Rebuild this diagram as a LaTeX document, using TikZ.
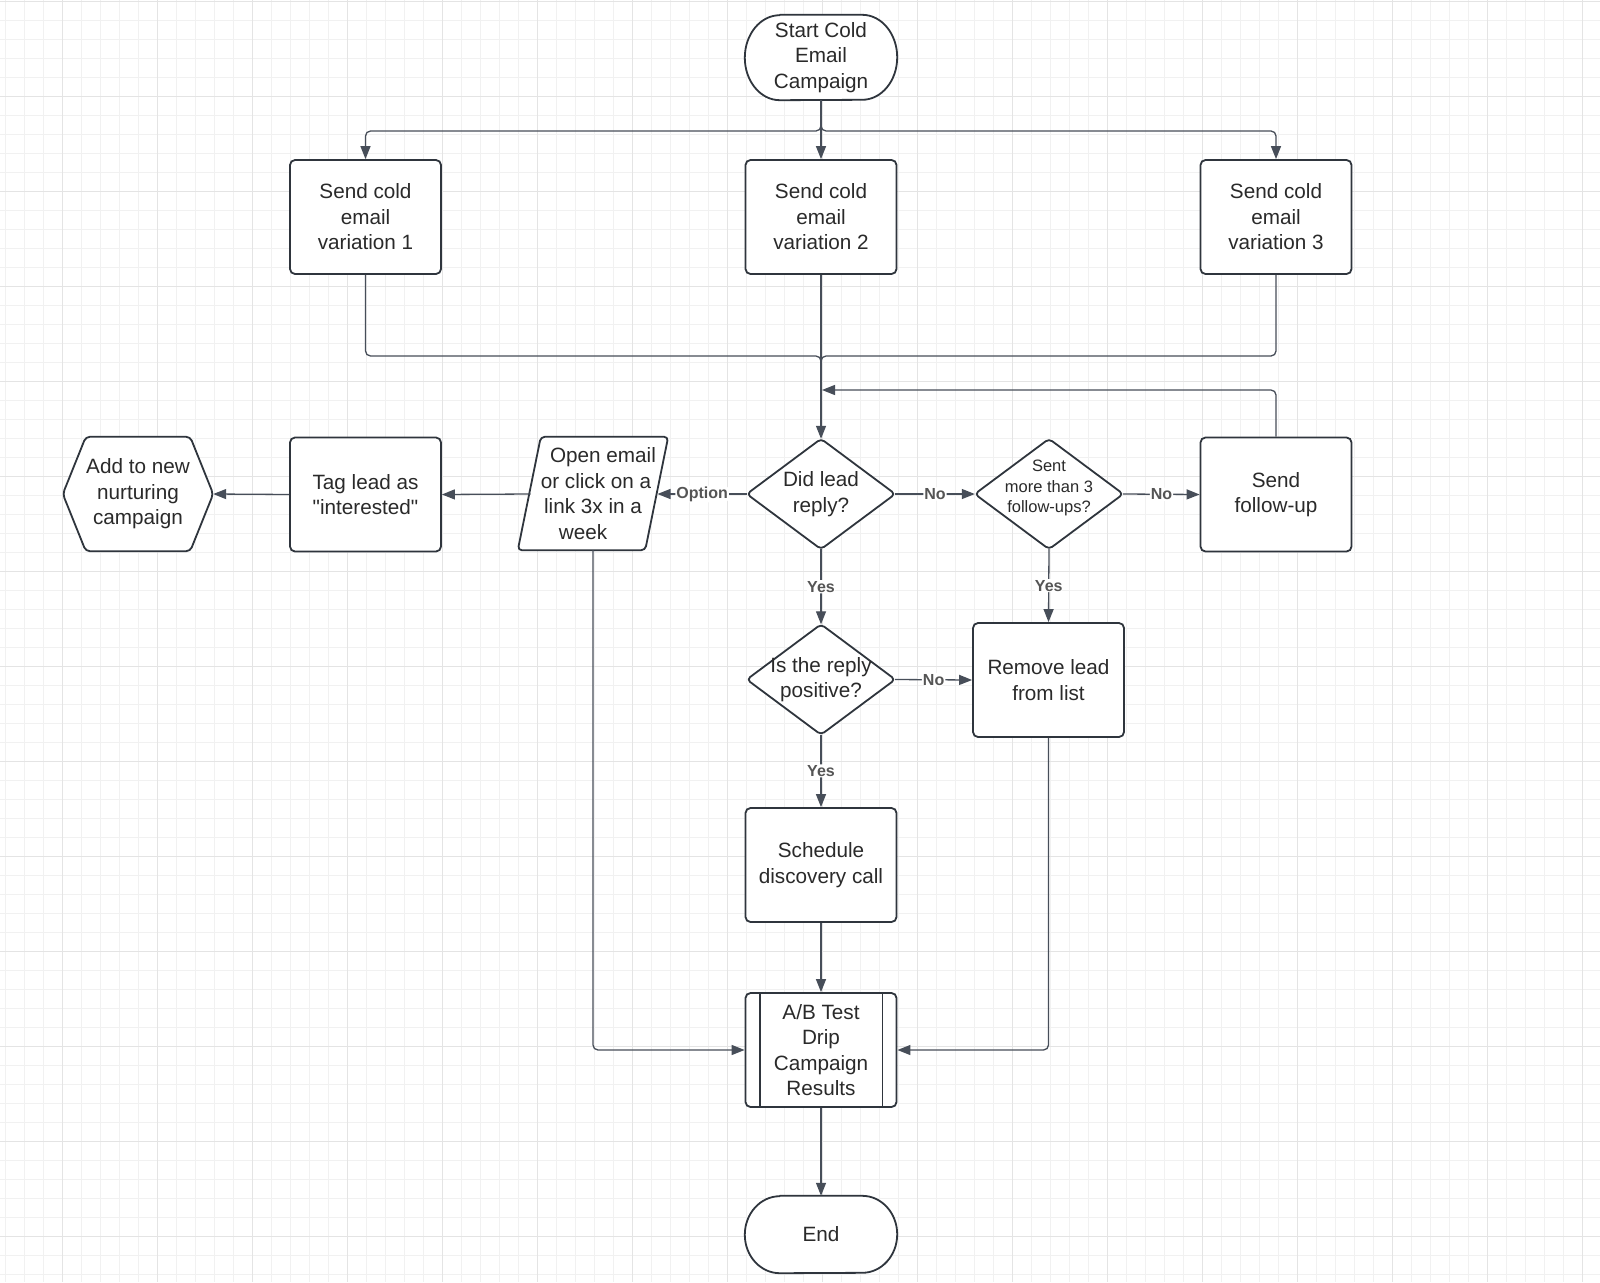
\documentclass[tikz,border=0pt]{standalone}
\usepackage{fontspec}
\setmainfont{Liberation Sans}
\usetikzlibrary{arrows.meta,calc}
\definecolor{bordc}{HTML}{2F353D}
\definecolor{connc}{HTML}{474E59}
\definecolor{txtc}{HTML}{2A2A2A}
\definecolor{lblc}{HTML}{555555}
\definecolor{gmin}{HTML}{F1F1F1}
\definecolor{gmaj}{HTML}{E4E4E4}
\pgfdeclarelayer{bg}
\pgfdeclarelayer{shp}
\pgfsetlayers{bg,shp,main}
\newcommand\mfs{\fontsize{20.7}{25.5}\selectfont}
\newcommand\sfs{\fontsize{16.5}{20.3}\selectfont}
\newcommand\lfs{\fontsize{16}{19}\selectfont\bfseries}
\newcommand\strq{\XeTeXglyph\XeTeXcharglyph"22\relax}
\begin{document}
\begin{tikzpicture}[x=1pt,y=-1pt,
  box/.style={draw=bordc, line width=1.8pt, fill=white, rounded corners=5pt,
    minimum width=151pt, minimum height=114pt, align=center, font=\mfs,
    text=txtc, inner sep=0pt},
  plain/.style={align=center, font=\mfs, text=txtc, inner sep=0pt},
  shapeline/.style={draw=bordc, line width=1.8pt, fill=white, line join=round},
  conn/.style={draw=connc, line width=1.3pt, rounded corners=5pt,
    -{Triangle[length=13pt,width=10pt]}},
  plainconn/.style={draw=connc, line width=1.3pt, rounded corners=5pt},
  lbl/.style={fill=white, font=\lfs, text=lblc, inner sep=1pt}]
\useasboundingbox (0,0) rectangle (1600,1282);
\begin{pgfonlayer}{bg}
  \fill[white] (0,0) rectangle (1600,1282);
  \foreach \x in {5,24,...,1600} \draw[gmin,line width=1pt] (\x,0) -- (\x,1282);
  \foreach \y in {1,20,...,1282} \draw[gmin,line width=1pt] (0,\y) -- (1600,\y);
  \foreach \x in {62,157,...,1600} \draw[gmaj,line width=1pt] (\x,0) -- (\x,1282);
  \foreach \y in {1,96,...,1282} \draw[gmaj,line width=1pt] (0,\y) -- (1600,\y);
\end{pgfonlayer}

% terminators
\node[plain, minimum width=152pt, minimum height=85pt] (start) at (821,57.5) {Start Cold\\Email\\Campaign};
\node[plain, minimum width=152pt, minimum height=77pt] (fin) at (821,1234.5) {End};
\begin{pgfonlayer}{shp}
  \draw[shapeline] ([xshift=35pt]start.north west) -- ([xshift=-35pt]start.north east)
     arc[start angle=90, end angle=-90, x radius=35pt, y radius=42.5pt]
     -- ([xshift=35pt]start.south west)
     arc[start angle=270, end angle=90, x radius=35pt, y radius=42.5pt] -- cycle;
  \draw[shapeline] ([xshift=35pt]fin.north west) -- ([xshift=-35pt]fin.north east)
     arc[start angle=90, end angle=-90, x radius=35pt, y radius=38.5pt]
     -- ([xshift=35pt]fin.south west)
     arc[start angle=270, end angle=90, x radius=35pt, y radius=38.5pt] -- cycle;
\end{pgfonlayer}

% process boxes
\node[box] (v1) at (365.5,217) {Send cold\\email\\variation 1};
\node[box] (v2) at (821,217) {Send cold\\email\\variation 2};
\node[box] (v3) at (1276,217) {Send cold\\email\\variation 3};
\node[box] (tag) at (365.5,494.5) {Tag lead as\\\strq interested\strq};
\node[box] (fu) at (1276,494.5) {Send\\follow-up};
\node[box] (rem) at (1048.5,680) {Remove lead\\from list};
\node[box] (sched) at (821,865) {Schedule\\discovery call};
\node[box] (ab) at (821,1050) {A/B Test\\Drip\\Campaign\\Results};
\draw[bordc, line width=1.8pt] ([xshift=15pt]ab.north west) -- ([xshift=15pt]ab.south west);
\draw[bordc, line width=1.8pt] ([xshift=-15pt]ab.north east) -- ([xshift=-15pt]ab.south east);

% hexagon
\node[plain, minimum width=150pt, minimum height=114pt] (hex) at (138,494) {Add to new\\nurturing\\campaign};
% parallelogram
\node[plain, minimum width=150pt, minimum height=113pt] (par) at (593,493.5)
  {\hspace*{20pt}Open email\\\hspace*{6pt}or click on a\\link 3x in a\hspace*{8pt}\\week\hspace*{20pt}};
% decisions
\node[plain, minimum width=148pt, minimum height=110pt] (d1) at (821,494) {Did lead\\reply?};
\node[minimum width=148pt, minimum height=110pt, inner sep=0pt] (d2) at (1049,494) {};
\node[plain, font=\sfs] (d2t) at (1049,488) {Sent\\more than 3\\follow-ups?};
\node[plain, minimum width=148pt, minimum height=110pt] (d3) at (821,679.5) {Is the reply\\positive?};

\begin{pgfonlayer}{shp}
  \draw[shapeline, rounded corners=4pt] (hex.north) -- ([xshift=-23pt]hex.north east) -- (hex.east)
    -- ([xshift=-23pt]hex.south east) -- ([xshift=23pt]hex.south west) -- (hex.west)
    -- ([xshift=23pt]hex.north west) -- cycle;
  \draw[shapeline, rounded corners=4pt] (par.north) -- (par.north east) -- ([xshift=-23pt]par.south east)
    -- (par.south west) -- ([xshift=23pt]par.north west) -- cycle;
  \foreach \d in {d1,d2,d3}
    \draw[shapeline, rounded corners=4pt] ($(\d.north)!0.5!(\d.east)$) -- (\d.east) -- (\d.south)
      -- (\d.west) -- (\d.north) -- cycle;
\end{pgfonlayer}

% connectors
\coordinate (br) at (821,131);
\coordinate (mg) at (821,356);
\coordinate (mgd) at (821,361);
\coordinate (fb) at (822,390);
\coordinate (pare) at (657.5,494);
\coordinate (parw) at (530.5,494);

\draw[conn] (start.south) -- (v2.north);
\draw[conn] (start.south) -- (br) -| (v1.north);
\draw[conn] (start.south) -- (br) -| (v3.north);
\draw[plainconn] (v1.south) |- (mg) -- (mgd);
\draw[plainconn] (v3.south) |- (mg) -- (mgd);
\draw[conn] (v2.south) -- (d1.north);
\draw[conn] (fu.north) |- (fb);

\draw[conn] (d1.west) -- node[lbl] {Option} (pare);
\draw[conn] (parw) -- (tag.east);
\draw[conn] (tag.west) -- (hex.east);
\draw[conn] (d1.east) -- node[lbl] {No} (d2.west);
\draw[conn] (d2.east) -- node[lbl] {No} (fu.west);
\draw[conn] (d1.south) -- node[lbl] {Yes} (d3.north);
\draw[conn] (d2.south) -- node[lbl] {Yes} (rem.north);
\draw[conn] (d3.east) -- node[lbl] {No} (rem.west);
\draw[conn] (d3.south) -- node[lbl] {Yes} (sched.north);
\draw[conn] (sched.south) -- (ab.north);
\draw[conn] (par.south) |- (ab.west);
\draw[conn] (rem.south) |- (ab.east);
\draw[conn] (ab.south) -- (fin.north);
\end{tikzpicture}
\end{document}
